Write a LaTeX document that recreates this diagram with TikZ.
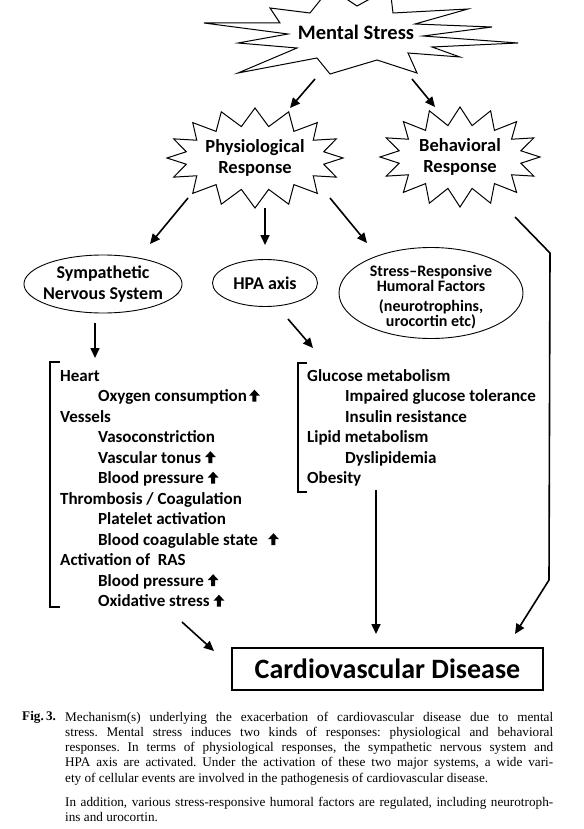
\documentclass[tikz,border=0pt]{standalone}
\usepackage{fontspec}
\setmainfont{Carlito}
\newfontfamily\capfont{Liberation Serif}
\usetikzlibrary{arrows.meta,positioning,shapes.geometric,shapes.symbols}

\newcommand{\uparr}{\tikz[x=1pt,y=1pt,baseline=0pt]\fill (3.5,0) -- (7.5,0) -- (7.5,6) -- (11,6) -- (5.5,12) -- (0,6) -- (3.5,6) -- cycle;}

\begin{document}
\begin{tikzpicture}[x=1pt, y=-1pt, node distance=4.1pt, >={Triangle[length=10pt,width=9pt]},
		burst/.style={starburst, starburst points=16, random starburst=0, starburst point height=18pt, draw, line width=1pt, align=center, inner sep=0pt, font=\bfseries\fontsize{18.5}{21}\selectfont},
		system/.style={ellipse, draw, line width=0.9pt, align=center, inner sep=0pt},
		entry/.style={anchor=north west, inner sep=0pt, text height=12pt, text depth=4pt, font=\bfseries\fontsize{17}{19}\selectfont},
		flow/.style={line width=1.6pt, ->},
		bracket/.style={line width=1.1pt}
		]
		\useasboundingbox (0,0) rectangle (583,829);
		
		% mental stress burst, cut by the top edge
		\draw[line width=1pt] (270,8) -- (280,23) -- (204,23) -- (288,34) -- (238,43) -- (297,48) -- (238,73) -- (317,58) -- (330,74) -- (377,60) -- (417,73) -- (408,53) -- (460,57) -- (432,47) -- (518,43) -- (423,36) -- (492,27) -- (415,24) -- (468,9) -- (393,13) -- (390,-12) -- (357,6) -- (330,-12) -- (310,13) -- cycle;
		\node[font=\bfseries\fontsize{20.5}{24}\selectfont] (mental) at (356,32) {Mental Stress};
		
		\node[burst, minimum width=170pt, minimum height=100pt] (phys) at (255,158) {Physiological\\Response};
		\node[burst, minimum width=160pt, minimum height=100pt] (behav) at (460,157) {Behavioral\\Response};
		
		\node[system, inner xsep=-4pt, minimum width=158pt, minimum height=58pt, font=\bfseries\fontsize{18}{21}\selectfont] (sns) at (103,284) {Sympathetic\\Nervous System};
		\node[system, minimum width=105pt, minimum height=47pt, font=\bfseries\fontsize{18}{21}\selectfont] (hpa) at (265,283) {HPA axis};
		\node[system, minimum width=184pt, minimum height=91pt] (humoral) at (431,293) {};
		\node[align=center, inner sep=0pt, font=\bfseries\fontsize{16}{15}\selectfont] (humoraltext) at (431,297) {Stress--Responsive\\Humoral Factors\\[5pt](neurotrophins,\\urocortin etc)};
		
		% left list
		\node[entry] (heart) at (60,369) {Heart};
		\node[below=of heart.south west, entry, xshift=38pt] (oxygen) {Oxygen consumption\hspace{2pt}\uparr};
		\node[below=of oxygen.south west, entry, xshift=-38pt] (vessels) {Vessels};
		\node[below=of vessels.south west, entry, xshift=38pt] (vasocon) {Vasoconstriction};
		\node[below=of vasocon.south west, entry] (tonus) {Vascular tonus \uparr};
		\node[below=of tonus.south west, entry] (bp1) {Blood pressure \uparr};
		\node[below=of bp1.south west, entry, xshift=-38pt] (thromb) {Thrombosis / Coagulation};
		\node[below=of thromb.south west, entry, xshift=38pt] (platelet) {Platelet activation};
		\node[below=of platelet.south west, entry] (coag) {Blood coagulable state\hspace{10pt}\uparr};
		\node[below=of coag.south west, entry, xshift=-38pt] (ras) {Activation of~ RAS};
		\node[below=of ras.south west, entry, xshift=38pt] (bp2) {Blood pressure \uparr};
		\node[below=of bp2.south west, entry] (oxid) {Oxidative stress \uparr};
		\draw[bracket] (60,362) -- (50,362) -- (50,607) -- (60,607);
		
		% right list
		\node[entry] (glucose) at (307,369) {Glucose metabolism};
		\node[below=of glucose.south west, entry, xshift=38pt] (igt) {Impaired glucose tolerance};
		\node[below=of igt.south west, entry] (insulin) {Insulin resistance};
		\node[below=of insulin.south west, entry, xshift=-38pt] (lipid) {Lipid metabolism};
		\node[below=of lipid.south west, entry, xshift=38pt] (dyslip) {Dyslipidemia};
		\node[below=of dyslip.south west, entry, xshift=-38pt] (obesity) {Obesity};
		\draw[bracket] (307,363) -- (298,363) -- (298,492) -- (307,492);
		
		\node[draw, line width=1.2pt, minimum width=311pt, minimum height=42pt, font=\bfseries\fontsize{28}{32}\selectfont] (cvd) at (387.5,669) {Cardiovascular Disease};
		
		% arrow ends
		\coordinate (ms1) at (315,79);   \coordinate (physin) at (290,108);
		\coordinate (ms2) at (412,79);   \coordinate (behin) at (435,107);
		\coordinate (ph1) at (188,198);  \coordinate (snsin) at (150,244);
		\coordinate (ph2) at (265,208);  \coordinate (hpain) at (265,245);
		\coordinate (ph3) at (330,198);  \coordinate (humin) at (367,243);
		\coordinate (beh1) at (515,217); \coordinate (bend1) at (550,253);
		\coordinate (bend2) at (549,580); \coordinate (cvdin3) at (515,634);
		\coordinate (sns1) at (95,323);  \coordinate (leftin) at (95,358);
		\coordinate (hpa1) at (288,319); \coordinate (rightin) at (313,348);
		\coordinate (left1) at (182,622); \coordinate (cvdin1) at (214,651);
		\coordinate (right1) at (376,490); \coordinate (cvdin2) at (376,634);
		
		\draw[flow] (ms1) -- (physin);
		\draw[flow] (ms2) -- (behin);
		\draw[flow] (ph1) -- (snsin);
		\draw[flow] (ph2) -- (hpain);
		\draw[flow] (ph3) -- (humin);
		\draw[flow] (beh1) -- (bend1) -- (bend2) -- (cvdin3);
		\draw[flow] (sns1) -- (leftin);
		\draw[flow] (hpa1) -- (rightin);
		\draw[flow] (left1) -- (cvdin1);
		\draw[flow] (right1) -- (cvdin2);
		
		% caption
		\node[anchor=base west, inner sep=0pt, font=\capfont\bfseries\fontsize{13.2}{15.3}\selectfont] (figlabel) at (22,720) {Fig.\,3.};
		\node[anchor=north west, inner sep=0pt, text width=488pt, align=justify, font=\capfont\fontsize{13.2}{15.3}\selectfont] (caption) at (65,711.5) {\parindent=0pt\tolerance=9999\frenchspacing Mechanism(s) underlying the exacerbation of cardiovascular disease due to mental\linebreak stress. Mental stress induces two kinds of responses: physiological and behavioral\linebreak responses. In terms of physiological responses, the sympathetic nervous system and\linebreak HPA axis are activated. Under the activation of these two major systems, a wide vari-\linebreak ety of cellular events are involved in the pathogenesis of cardiovascular disease.\par\vspace{8.5pt}In addition, various stress-responsive humoral factors are regulated, including neurotroph-\linebreak ins and urocortin.};
\end{tikzpicture}
\end{document}
